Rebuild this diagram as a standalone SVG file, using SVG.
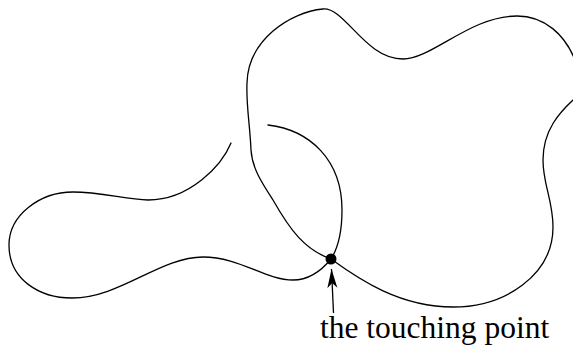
<svg xmlns="http://www.w3.org/2000/svg" width="573" height="345" viewBox="0 0 573 345">
<defs>
<style>
.curve{fill:none;stroke:#000;stroke-width:1.3;stroke-linecap:round;stroke-linejoin:round}
.label{font-family:"Liberation Serif","Times New Roman",serif;font-size:31.5px;fill:#000}
</style>
<marker id="arr" markerUnits="userSpaceOnUse" markerWidth="24" markerHeight="14" viewBox="-20 -7 22 14" refX="0" refY="0" orient="auto">
<path d="M0,0 L-19,-5 Q-16,-2 -14,0 Q-16,2 -19,5 Z" fill="#000"/>
</marker>
</defs>
<rect width="573" height="345" fill="#fff"/>
<g id="open-curve">
<path class="curve" d="M231,143 C222,165 190,200 148,200 C125,199 100,192 73,192 C40,192 9,215 9,245 C9,280 40,298 72,298 C120,298 160,257 203,257 C240,257 265,280 293,280 C310,280 322,270 331,259 C338,248 342,230 342,210 C342,160 310,130 268,125"/>
</g>
<g id="closed-curve">
<path class="curve" d="M331,259 C305,250 290,230 273,200 C262,183 252,168 251,150 C250,125 246,105 247,83 C248,40 290,12 323,9 C345,7 365,59 403,59 C432,59 470,16 517,16 C545,16 565,35 575,60 C585,80 585,90 573,100 C560,112 543,130 543,160 C543,185 553,200 553,227 C553,275 505,307 453,307 C400,307 360,280 331,259 Z"/>
</g>
<g id="touching-point">
<circle cx="331" cy="259" r="5.5" fill="#000"/>
</g>
<g id="connectors">
<line x1="333.5" y1="313" x2="331.5" y2="269" stroke="#000" stroke-width="1.3" marker-end="url(#arr)"/>
</g>
<g id="label">
<text class="label" x="320" y="338">the touching point</text>
</g>
</svg>
